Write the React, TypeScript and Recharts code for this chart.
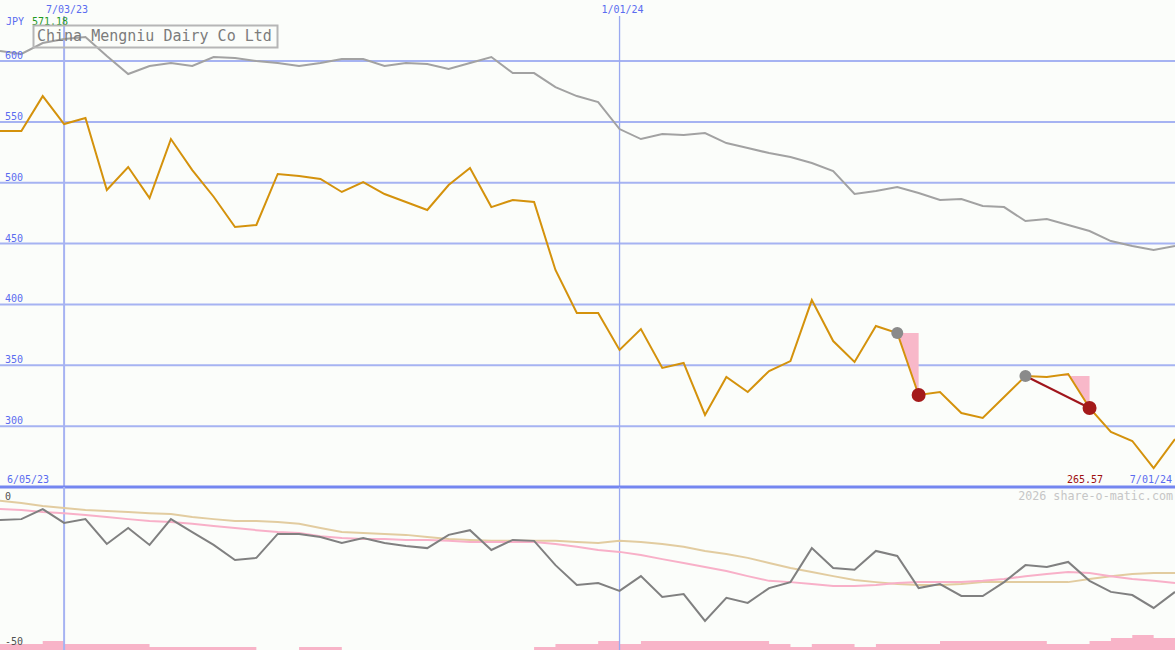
import { ComposedChart, Line, Area, XAxis, YAxis, CartesianGrid, ReferenceLine } from 'recharts'

// weekly closes, 12 Jun 2023 .. 1 Jul 2024
const weeks = [
  '6/12/23', '6/19/23', '6/26/23', '7/03/23', '7/10/23', '7/17/23', '7/24/23', '7/31/23',
  '8/07/23', '8/14/23', '8/21/23', '8/28/23', '9/04/23', '9/11/23', '9/18/23', '9/25/23',
  '10/02/23', '10/09/23', '10/16/23', '10/23/23', '10/30/23', '11/06/23', '11/13/23', '11/20/23',
  '11/27/23', '12/04/23', '12/11/23', '12/18/23', '12/25/23', '1/01/24', '1/08/24', '1/15/24',
  '1/22/24', '1/29/24', '2/05/24', '2/12/24', '2/19/24', '2/26/24', '3/04/24', '3/11/24',
  '3/18/24', '3/25/24', '4/01/24', '4/08/24', '4/15/24', '4/22/24', '4/29/24', '5/06/24',
  '5/13/24', '5/20/24', '5/27/24', '6/03/24', '6/10/24', '6/17/24', '6/24/24', '7/01/24',
]

const price = [
  542.5, 542.5, 571.18, 548.2, 553.2, 494.0, 512.9, 487.4, 535.9, 510.4,
  488.5, 463.6, 465.3, 507.2, 505.5, 503.1, 492.4, 500.6, 490.7, 484.2,
  477.6, 498.1, 512.1, 480.0, 485.8, 484.2, 428.3, 393.0, 393.0, 362.6,
  379.8, 347.8, 351.9, 309.2, 340.4, 328.1, 345.3, 353.5, 403.6, 369.9,
  352.7, 382.3, 376.5, 325.6, 328.1, 310.8, 306.7, 323.9, 341.2, 340.4,
  342.8, 314.9, 295.2, 287.8, 265.57, 289.4,
]

const benchmark = [
  608.2, 605.8, 614.8, 618.1, 619.7, 604.1, 589.3, 595.9, 598.4, 595.9,
  603.3, 602.5, 600.0, 598.4, 595.9, 598.4, 601.6, 601.6, 595.9, 598.4,
  597.5, 593.4, 598.4, 603.3, 590.1, 590.1, 578.6, 571.2, 566.3, 544.1,
  535.9, 540.0, 539.2, 540.8, 532.6, 528.5, 524.4, 521.1, 516.2, 509.6,
  490.7, 493.2, 496.5, 491.5, 485.8, 486.6, 480.9, 480.0, 468.5, 470.2,
  465.3, 460.3, 452.1, 448.0, 444.7, 448.0,
]

const relStrength = [
  -10.5, -10.2, -7.0, -11.4, -10.2, -18.1, -13.0, -18.4, -10.2, -14.3,
  -18.4, -23.2, -22.5, -14.9, -14.9, -15.9, -17.8, -16.2, -17.8, -18.7,
  -19.4, -15.2, -13.7, -20.0, -16.8, -17.1, -24.8, -31.1, -30.5, -33.0,
  -28.3, -34.9, -34.0, -42.5, -35.2, -36.8, -32.1, -30.2, -19.4, -25.7,
  -26.3, -20.3, -21.9, -32.1, -30.8, -34.6, -34.6, -30.2, -24.8, -25.4,
  -23.8, -29.8, -33.3, -34.3, -38.4, -33.3,
]

const rsFast = [
  -7.0, -7.3, -7.9, -8.3, -8.9, -9.5, -10.2, -10.8, -11.1, -11.7,
  -12.4, -13.0, -13.7, -14.3, -14.6, -15.6, -16.2, -16.5, -16.5, -16.8,
  -16.8, -17.1, -17.5, -17.5, -17.5, -17.5, -18.1, -19.0, -20.0, -20.6,
  -21.6, -22.9, -24.1, -25.4, -26.7, -28.3, -29.8, -30.2, -30.8, -31.4,
  -31.4, -31.1, -30.5, -30.2, -30.2, -30.2, -29.8, -29.2, -28.3, -27.6,
  -27.0, -27.3, -28.3, -29.2, -29.8, -30.5,
]

const rsSlow = [
  -4.4, -5.1, -6.0, -6.7, -7.3, -7.6, -7.9, -8.3, -8.6, -9.5,
  -10.2, -10.8, -10.8, -11.1, -11.7, -13.0, -14.3, -14.6, -14.9, -15.2,
  -15.9, -16.5, -16.8, -17.1, -17.1, -17.1, -17.1, -17.5, -17.8, -17.1,
  -17.5, -18.1, -19.0, -20.3, -21.3, -22.5, -24.1, -25.7, -27.0, -28.3,
  -29.5, -30.2, -30.8, -31.1, -31.1, -30.8, -30.2, -30.2, -30.2, -30.2,
  -30.2, -29.2, -28.3, -27.6, -27.3, -27.3,
]

const volumeLevel = [
  2, 2, 3, 2, 2, 2, 2, 1, 1, 1, 1, 1, 0, 0, 1, 1, 0, 0, 0, 0,
  0, 0, 0, 0, 0, 1, 2, 2, 3, 2, 3, 3, 3, 3, 3, 3, 2, 1, 2, 2,
  1, 2, 2, 2, 3, 3, 3, 3, 3, 2, 2, 3, 4, 5, 4, 4,
]

const priceTicks = [600, 550, 500, 450, 400, 350, 300]
const rsTicks = [0, -50]
const markedWeeks = ['7/03/23', '1/01/24']
const rangeStart = '6/05/23'
// sell signals: [peak week, signal week]
const drops = [[42, 43], [48, 51]]

const markIdx = markedWeeks.map((w) => weeks.indexOf(w))
const lowVal = Math.min(...price)
const highVal = Math.max(...price)

const rows = weeks.map((week, i) => {
  const drop = drops.find(([a, b]) => i >= a && i <= b)
  return {
    i,
    week,
    price: price[i],
    benchmark: benchmark[i],
    rs: relStrength[i],
    rsFast: rsFast[i],
    rsSlow: rsSlow[i],
    vol: volumeLevel[i],
    fall: drop ? [price[i], price[drop[0]]] : null,
    peak: drops.some((d) => d[0] === i) ? price[i] : null,
    signal: drops.some((d) => d[1] === i) ? price[i] : null,
  }
})

const BG = '#fbfdfa'
const GRID = '#a6b3f2'
const BLUE = '#5a6cf0'
const MONO = 'DejaVu Sans Mono, monospace'

function PriceTick({ y, payload }: any) {
  return (
    <text x={5} y={y - 2} fill={BLUE} fontSize={10} fontFamily={MONO}>
      {payload.value}
    </text>
  )
}

function RsTick({ y, payload }: any) {
  return (
    <text x={5} y={payload.value === 0 ? y + 13 : y + 1} fill="#505050" fontSize={10} fontFamily={MONO}>
      {payload.value}
    </text>
  )
}

function DateTick({ x, payload }: any) {
  return (
    <text x={x + 3} y={13} textAnchor="middle" fill={BLUE} fontSize={10} fontFamily={MONO}>
      {weeks[payload.value]}
    </text>
  )
}

const mark = (fill: string, r: number) => (p: any) =>
  p.value == null ? <g key={`m${fill}${p.index}`} /> : <circle key={`m${fill}${p.index}`} cx={p.cx} cy={p.cy} r={r} fill={fill} />

export default function App() {
  const dropB = drops[1]
  return (
    <div style={{ position: 'absolute', left: 0, top: 0, width: 1175, height: 650, background: BG }}>
      <style>{'body{margin:0}'}</style>
      <div style={{ position: 'absolute', left: 0, top: 0 }}>
        <ComposedChart width={1175} height={490} data={rows} margin={{ top: 0, right: 0, bottom: 3, left: 0 }}>
          <XAxis
            dataKey="i"
            type="number"
            domain={[0, 55]}
            orientation="top"
            ticks={markIdx}
            interval={0}
            height={16}
            axisLine={false}
            tickLine={false}
            tick={<DateTick />}
          />
          <YAxis
            domain={[250, 637]}
            ticks={priceTicks}
            interval={0}
            mirror
            axisLine={false}
            tickLine={false}
            tick={<PriceTick />}
            allowDataOverflow
          />
          <CartesianGrid vertical={false} syncWithTicks stroke={GRID} strokeWidth={2} />
          <ReferenceLine x={markIdx[0]} stroke={GRID} strokeWidth={2} />
          <ReferenceLine x={markIdx[1]} stroke="#9aa9f0" strokeWidth={1.3} />
          <ReferenceLine y={250} stroke="#7486f0" strokeWidth={3} />
          <Line dataKey="benchmark" type="linear" stroke="#a2a2a2" strokeWidth={2} dot={false} isAnimationActive={false} />
          <Area dataKey="fall" type="linear" stroke="none" fill="#f8b8c9" fillOpacity={1} isAnimationActive={false} />
          <Line dataKey="peak" stroke="none" dot={mark('#8a8a8a', 6)} activeDot={false} isAnimationActive={false} />
          <Line dataKey="signal" stroke="none" dot={mark('#a41a1a', 7)} activeDot={false} isAnimationActive={false} />
          <ReferenceLine
            segment={[
              { x: dropB[0], y: price[dropB[0]] },
              { x: dropB[1], y: price[dropB[1]] },
            ]}
            stroke="#a0161c"
            strokeWidth={2}
          />
          <Line dataKey="price" type="linear" stroke="#d4920c" strokeWidth={2} dot={false} isAnimationActive={false} />
        </ComposedChart>
      </div>
      <div style={{ position: 'absolute', left: 0, top: 487 }}>
        <ComposedChart width={1175} height={163} data={rows} margin={{ top: 0, right: 0, bottom: 0, left: 0 }}>
          <XAxis dataKey="i" type="number" domain={[0, 55]} hide />
          <YAxis
            yAxisId="rs"
            domain={[-51.75, 0]}
            ticks={rsTicks}
            interval={0}
            mirror
            axisLine={false}
            tickLine={false}
            tick={<RsTick />}
            allowDataOverflow
          />
          <YAxis yAxisId="vol" domain={[0, 54]} hide />
          <ReferenceLine yAxisId="rs" x={markIdx[0]} stroke={GRID} strokeWidth={2} />
          <ReferenceLine yAxisId="rs" x={markIdx[1]} stroke="#9aa9f0" strokeWidth={1.3} />
          <Area yAxisId="vol" dataKey="vol" type="stepAfter" stroke="none" fill="#f8b4c8" fillOpacity={1} isAnimationActive={false} />
          <Line yAxisId="rs" dataKey="rsSlow" stroke="#e2cca0" strokeWidth={2} dot={false} isAnimationActive={false} />
          <Line yAxisId="rs" dataKey="rsFast" stroke="#f8b0c8" strokeWidth={2} dot={false} isAnimationActive={false} />
          <Line yAxisId="rs" dataKey="rs" stroke="#808080" strokeWidth={2} dot={false} isAnimationActive={false} />
        </ComposedChart>
      </div>
      <svg width={1175} height={650} style={{ position: 'absolute', left: 0, top: 0, pointerEvents: 'none' }}>
        <text x={6} y={25} fill={BLUE} fontSize={10} fontFamily={MONO}>JPY</text>
        <text x={32} y={25} fill="#1f9a1f" fontSize={10} fontFamily={MONO}>{highVal.toFixed(2)}</text>
        <rect x={33.5} y={25.5} width={244} height={22} fill="none" stroke="#b6b6b6" strokeWidth={2} />
        <text x={37} y={41} fill="#7c7c7c" fontSize={15} fontFamily={MONO}>China Mengniu Dairy Co Ltd</text>
        <text x={7} y={483} fill={BLUE} fontSize={10} fontFamily={MONO}>{rangeStart}</text>
        <text x={1067} y={483} fill="#a01010" fontSize={10} fontFamily={MONO}>{lowVal.toFixed(2)}</text>
        <text x={1172} y={483} textAnchor="end" fill={BLUE} fontSize={10} fontFamily={MONO}>{weeks[weeks.length - 1]}</text>
        <text x={1173} y={500} textAnchor="end" fill="#c6c6c6" fontSize={11.7} fontFamily={MONO}>2026 share-o-matic.com</text>
      </svg>
    </div>
  )
}
